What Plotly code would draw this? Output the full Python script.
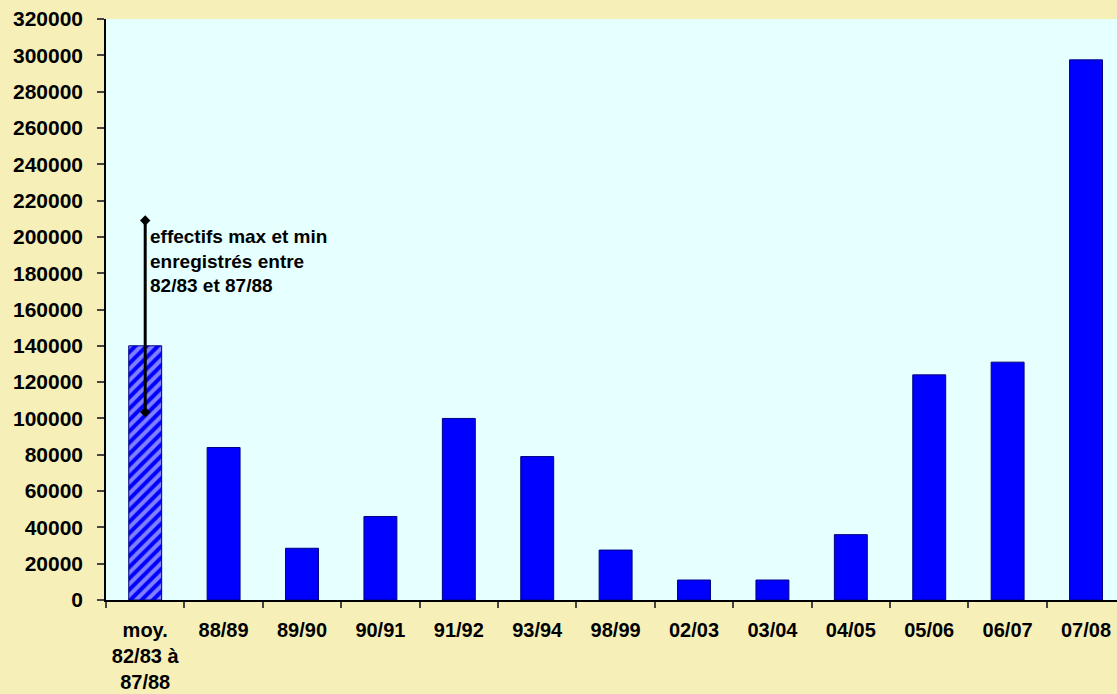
import plotly.graph_objects as go

# Effectifs par campagne
categories = ["moy.<br>82/83 à<br>87/88", "88/89", "89/90", "90/91", "91/92", "93/94",
              "98/99", "02/03", "03/04", "04/05", "05/06", "06/07", "07/08"]
effectifs = [140000, 84000, 28500, 46000, 100000, 79000,
             27500, 11000, 11000, 36000, 124000, 131000, 297500]

# Plage min-max enregistrée entre 82/83 et 87/88
plage_min = 103500
plage_max = 209000

y_ticks = list(range(0, 320001, 20000))

font_family = "Liberation Sans, Arial, sans-serif"

# Première barre (moyenne) hachurée, les autres pleines
pattern_shapes = ["/"] + [""] * (len(categories) - 1)

fig = go.Figure()

fig.add_trace(go.Bar(
    x=categories,
    y=effectifs,
    marker=dict(
        color="#0000FF",
        line=dict(color="#000080", width=1),
        pattern=dict(shape=pattern_shapes, fgcolor="white", bgcolor="#0000FF",
                     size=8, solidity=0.5),
    ),
    showlegend=False,
    hoverinfo="x+y",
))

fig.add_trace(go.Scatter(
    x=[categories[0], categories[0]],
    y=[plage_min, plage_max],
    mode="lines+markers",
    line=dict(color="black", width=3),
    marker=dict(symbol="diamond", size=8, color="black"),
    showlegend=False,
    hoverinfo="y",
))

fig.add_annotation(
    x=categories[0], y=207000,
    xref="x", yref="y",
    text="effectifs max et min<br>enregistrés entre<br>82/83 et 87/88",
    showarrow=False,
    xanchor="left", yanchor="top", align="left",
    xshift=3,
    font=dict(family=font_family, size=19, color="black", weight="bold"),
)

fig.update_layout(
    width=1117, height=694,
    margin=dict(l=106, r=0, t=19, b=94, autoexpand=False),
    paper_bgcolor="#F6F0B8",
    plot_bgcolor="#E6FFFF",
    bargap=0.58,
    font=dict(family=font_family, size=20, color="black", weight="bold"),
    xaxis=dict(
        type="category",
        range=[-0.5, 12.395],
        automargin=False,
        showgrid=False,
        showline=True, linecolor="black", linewidth=1.5,
        ticks="outside", ticklen=6, tickcolor="#444444", tickwidth=1.5,
        tickson="boundaries",
        ticklabelstandoff=11,
        tickfont=dict(family=font_family, size=20, weight="bold"),
    ),
    yaxis=dict(
        range=[0, 320000],
        automargin=False,
        tickvals=y_ticks,
        tickformat="d",
        showgrid=False,
        zeroline=False,
        showline=True, linecolor="black", linewidth=1.5,
        ticks="outside", ticklen=7, tickcolor="#444444", tickwidth=1.5,
        ticklabelstandoff=10,
        tickfont=dict(family=font_family, size=21, weight="bold"),
    ),
)

fig.write_html("out.html")
